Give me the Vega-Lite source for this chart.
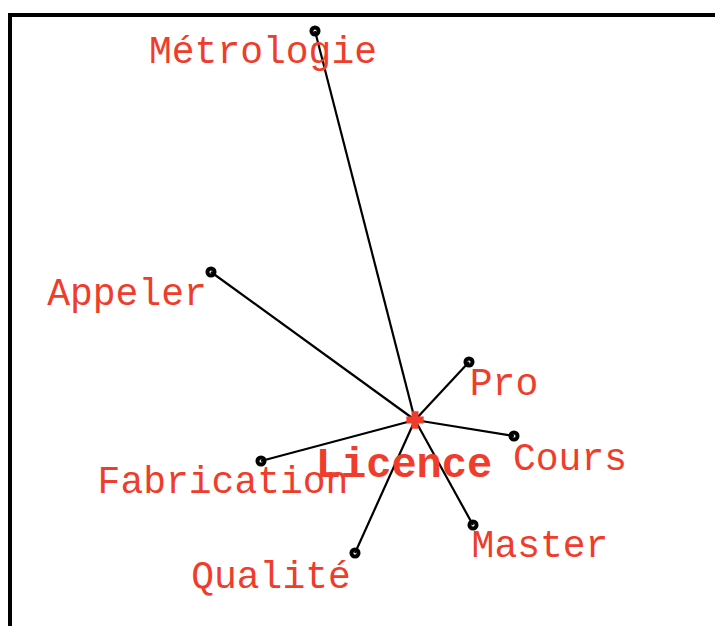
{
  "$schema": "https://vega.github.io/schema/vega-lite/v6.json",
  "autosize": "none",
  "width": 720,
  "height": 630,
  "padding": {"left": 10, "top": 15, "right": 0, "bottom": 0},
  "background": "white",
  "config": {"view": {"stroke": "black", "strokeWidth": 4}},
  "datasets": {
    "nodes": [
      {"term": "Métrologie", "x": 315, "y": 31, "cx": 415, "cy": 420, "lx": 263, "ly": 63},
      {"term": "Appeler", "x": 211, "y": 272, "cx": 415, "cy": 420, "lx": 127, "ly": 305},
      {"term": "Pro", "x": 469, "y": 362, "cx": 415, "cy": 420, "lx": 504, "ly": 395},
      {"term": "Cours", "x": 514, "y": 436, "cx": 415, "cy": 420, "lx": 570, "ly": 470},
      {"term": "Fabrication", "x": 261, "y": 461, "cx": 415, "cy": 420, "lx": 223, "ly": 493},
      {"term": "Master", "x": 473, "y": 525, "cx": 415, "cy": 420, "lx": 540, "ly": 557},
      {"term": "Qualité", "x": 355, "y": 553, "cx": 415, "cy": 420, "lx": 271, "ly": 588}
    ],
    "center": [
      {"term": "Licence", "x": 415, "y": 420, "lx": 404, "ly": 477}
    ]
  },
  "layer": [
    {
      "data": {"name": "nodes"},
      "mark": {"type": "rule", "color": "black", "strokeWidth": 2.2},
      "encoding": {
        "x": {"field": "x", "type": "quantitative", "scale": {"domain": [10, 730], "zero": false, "nice": false}, "axis": null},
        "y": {"field": "y", "type": "quantitative", "scale": {"domain": [15, 645], "zero": false, "nice": false, "reverse": true}, "axis": null},
        "x2": {"field": "cx"},
        "y2": {"field": "cy"}
      }
    },
    {
      "data": {"name": "nodes"},
      "mark": {"type": "point", "shape": "circle", "size": 50, "filled": false, "stroke": "black", "strokeWidth": 4, "opacity": 1},
      "encoding": {
        "x": {"field": "x", "type": "quantitative"},
        "y": {"field": "y", "type": "quantitative"}
      }
    },
    {
      "data": {"name": "nodes"},
      "mark": {"type": "text", "font": "Liberation Mono", "fontSize": 38, "color": "#f03c2a", "align": "center", "baseline": "alphabetic"},
      "encoding": {
        "x": {"field": "lx", "type": "quantitative"},
        "y": {"field": "ly", "type": "quantitative"},
        "text": {"field": "term"}
      }
    },
    {
      "data": {"name": "center"},
      "mark": {"type": "point", "shape": "cross", "size": 300, "filled": true, "color": "#f03c2a", "opacity": 1},
      "encoding": {
        "x": {"field": "x", "type": "quantitative"},
        "y": {"field": "y", "type": "quantitative"}
      }
    },
    {
      "data": {"name": "center"},
      "mark": {"type": "text", "font": "Liberation Mono", "fontSize": 42, "fontWeight": "bold", "color": "#f03c2a", "align": "center", "baseline": "alphabetic"},
      "encoding": {
        "x": {"field": "lx", "type": "quantitative"},
        "y": {"field": "ly", "type": "quantitative"},
        "text": {"field": "term"}
      }
    }
  ]
}
